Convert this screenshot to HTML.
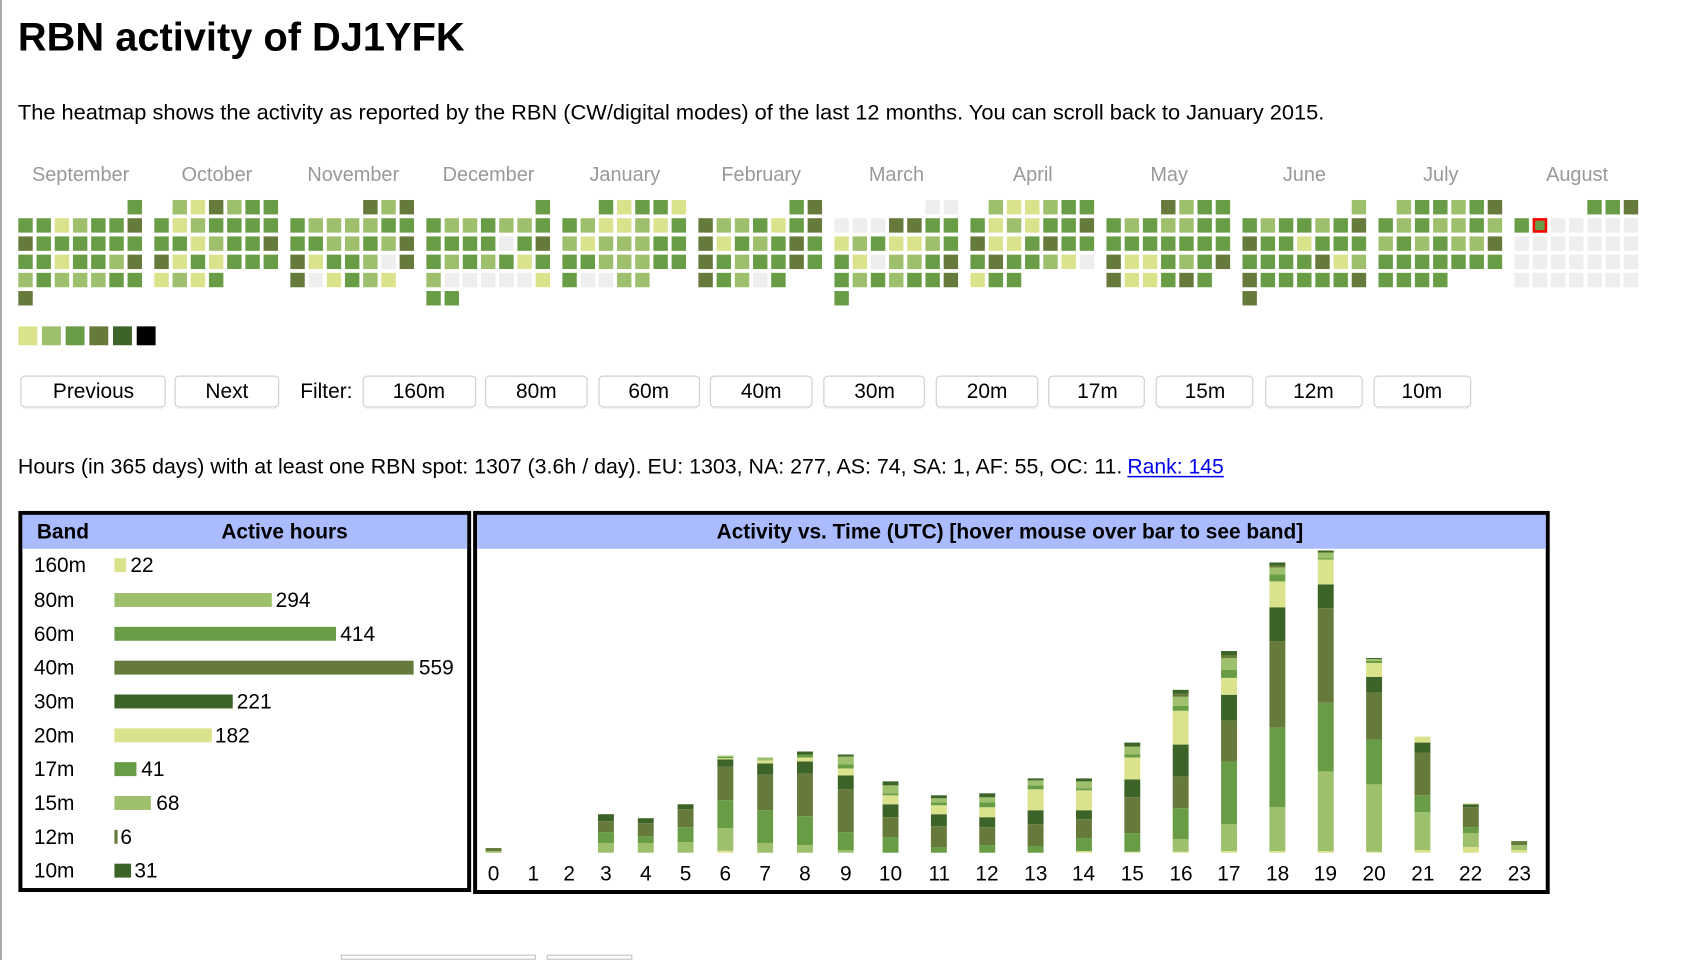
<!DOCTYPE html>
<html><head><meta charset="utf-8"><style>
html,body{margin:0;padding:0;background:#fff;}
body{width:1688px;height:960px;overflow:hidden;}
svg text{font-family:"Liberation Sans",sans-serif;}
</style></head><body>
<svg id="s" width="1688" height="960" xmlns="http://www.w3.org/2000/svg">
<rect x="0" y="0" width="2" height="960" fill="#aaa"/>
<g transform="scale(0.995)">
<text x="18" y="51" font-size="40" font-weight="bold" textLength="449" lengthAdjust="spacingAndGlyphs">RBN activity of DJ1YFK</text>
<text x="18" y="120" font-size="21" textLength="1313" lengthAdjust="spacingAndGlyphs">The heatmap shows the activity as reported by the RBN (CW/digital modes) of the last 12 months. You can scroll back to January 2015.</text>
<g font-size="20" fill="#999" text-anchor="middle">
<text x="81" y="182">September</text><text x="218" y="182">October</text><text x="355" y="182">November</text><text x="491" y="182">December</text>
<text x="628" y="182">January</text><text x="765" y="182">February</text><text x="901" y="182">March</text><text x="1038" y="182">April</text>
<text x="1175" y="182">May</text><text x="1311" y="182">June</text><text x="1448" y="182">July</text><text x="1585" y="182">August</text>
</g>
<g id="heat"></g>
<g id="btns"></g>
<text x="18" y="476" font-size="21" textLength="1110" lengthAdjust="spacingAndGlyphs">Hours (in 365 days) with at least one RBN spot: 1307 (3.6h / day). EU: 1303, NA: 277, AS: 74, SA: 1, AF: 55, OC: 11.</text>
<text x="1133" y="476" font-size="21" fill="#00e" textLength="97" lengthAdjust="spacingAndGlyphs">Rank: 145</text>
<line x1="1133" y1="479" x2="1230" y2="479" stroke="#00e" stroke-width="1.5"/>
<rect x="20.5" y="515.5" width="451" height="379" fill="#fff" stroke="#000" stroke-width="4"/>
<rect x="22.5" y="517.5" width="447" height="34" fill="#aabbff"/>
<text x="37" y="541" font-size="21" font-weight="bold">Band</text>
<text x="286" y="541" font-size="21" font-weight="bold" text-anchor="middle">Active hours</text>
<g font-size="21">
<text x="34" y="575">160m</text><text x="34" y="610">80m</text><text x="34" y="644">60m</text><text x="34" y="678">40m</text><text x="34" y="712">30m</text>
<text x="34" y="746">20m</text><text x="34" y="780">17m</text><text x="34" y="814">15m</text><text x="34" y="848">12m</text><text x="34" y="882">10m</text>
<text x="131" y="575">22</text><text x="277" y="610">294</text><text x="342" y="644">414</text><text x="421" y="678">559</text><text x="238" y="712">221</text>
<text x="216" y="746">182</text><text x="142" y="780">41</text><text x="157" y="814">68</text><text x="121" y="848">6</text><text x="135" y="882">31</text>
</g>
<g id="hb"></g>
<rect x="477.5" y="515.5" width="1078" height="381" fill="#fff" stroke="#000" stroke-width="4"/>
<rect x="479.5" y="517.5" width="1074" height="34" fill="#aabbff"/>
<text x="1015" y="541" font-size="21" font-weight="bold" text-anchor="middle">Activity vs. Time (UTC) [hover mouse over bar to see band]</text>
<g id="vb"></g>
<g font-size="21" text-anchor="middle">
<text x="496" y="885">0</text><text x="536" y="885">1</text><text x="572" y="885">2</text><text x="609" y="885">3</text><text x="649" y="885">4</text><text x="689" y="885">5</text>
<text x="729" y="885">6</text><text x="769" y="885">7</text><text x="809" y="885">8</text><text x="850" y="885">9</text><text x="895" y="885">10</text><text x="944" y="885">11</text>
<text x="992" y="885">12</text><text x="1041" y="885">13</text><text x="1089" y="885">14</text><text x="1138" y="885">15</text><text x="1187" y="885">16</text><text x="1235" y="885">17</text>
<text x="1284" y="885">18</text><text x="1332" y="885">19</text><text x="1381" y="885">20</text><text x="1430" y="885">21</text><text x="1478" y="885">22</text><text x="1527" y="885">23</text>
</g>
<rect x="343" y="960" width="195" height="4" fill="none" stroke="#bbb"/>
<rect x="550" y="960" width="85" height="4" fill="none" stroke="#bbb"/>
<g font-size="21" text-anchor="middle">
<text x="94" y="400">Previous</text><text x="228" y="400">Next</text>
<text x="328" y="400">Filter:</text>
<text x="421" y="400">160m</text><text x="539" y="400">80m</text><text x="652" y="400">60m</text><text x="765" y="400">40m</text><text x="879" y="400">30m</text>
<text x="992" y="400">20m</text><text x="1103" y="400">17m</text><text x="1211" y="400">15m</text><text x="1320" y="400">12m</text><text x="1429" y="400">10m</text>
</g>
</g>
</svg>
<script>
var NS="http://www.w3.org/2000/svg";
function R(g,x,y,w,h,f,extra){var r=document.createElementNS(NS,"rect");r.setAttribute("x",x);r.setAttribute("y",y);r.setAttribute("width",w);r.setAttribute("height",h);r.setAttribute("fill",f);if(extra)for(var k in extra)r.setAttribute(k,extra[k]);document.getElementById(g).appendChild(r);return r;}
var C=["#eeeeee","#dae28c","#9ebf6b","#689d46","#667a3c","#3c6428","#000"];
var M=[
["......3","3312334","4333333","3313324","2322233","4......"],
[".214233","3123333","3312334","4131333","1213..."],
["....424","3222233","3322324","4133204","401321."],
["......3","3223223","3333034","3232313","2000001","33....."],
["..31331","3211213","2122233","3322233","30022.."],
[".....34","4223134","4132343","4323343","43203.."],
[".....00","0004433","1231123","3102234","3232334","3......"],
[".211233","3121334","4113433","3433210","133...."],
["...4233","3232233","3333333","4113234","411343."],
["......2","3233234","4331333","3333412","4333334","4......"],
[".233234","3232232","2323224","3333333","3333..."],
["....334","3300000","0000000","0000000","0000000"]];
for(var m=0;m<12;m++){var x0=18.4+m*136.7;for(var r=0;r<M[m].length;r++){var row=M[m][r];for(var c=0;c<7;c++){var ch=row[c];if(ch==".")continue;R("heat",(x0+c*18.3).toFixed(1),(201+r*18.3).toFixed(1),14.5,14.5,C[+ch]);}}}
R("heat",18.4+11*136.7+18.3+1.2,201+18.3+1.2,12.1,12.1,"none",{stroke:"#f00","stroke-width":"2.5"});
for(var i=0;i<6;i++)R("heat",(18.4+i*23.8).toFixed(1),328,19,19,C[i+1]);
var B=[[21,145],[176,104],[365,113],[488,102],[602,101],[714,102],[828,101],[941,102],[1054,96],[1162,97],[1272,97],[1381,97]];
B.forEach(function(b){R("btns",b[0],378,b[1],31,"#fff",{rx:4,stroke:"#d0d0d0","stroke-width":1.2});R("btns",b[0]+2,409,b[1]-4,1.5,"#e4e4e4");});
var BC=[C[1],C[2],C[3],C[4],C[5],C[1],C[3],C[2],C[4],C[5]];
var V=[22,294,414,559,221,182,41,68,6,31];
for(var i=0;i<10;i++)R("hb",115,[568,603,637,671,705,739,773,807,841,875][i]-7,Math.max(2,V[i]*0.538).toFixed(1),14,BC[i]);
var S=[
[0,1.7,0,3,0,0,0,0,0,0],[0,0,0,0,0,0,0,0,0,0],[0,0,0,0,0,0,0,0,0,0],
[0,9.7,11,11,7,0,0,0,0,0],[0,9.7,7,13,5,0,0,0,0,0],[0,10.7,15,18,5,0,0,0,0,0],
[2,22.7,28,34,7,1.3,1.3,1.3,0,0],[0,9.7,33,36,11,3,0,3,0,0],[0,7.7,29,43,12,4,3,0,0,3],
[0,2.7,18,43,14,7,4,8,0,2],[0,0,15.7,20,13,9,2,8,0,4],[0,0,5.7,21,12,9,3,4,0,3],
[0,0,7.7,18,10,10,5,5,0,4],[0,0,6.7,22,14,21,4,5,0,2],[1.7,0,13,19,9,20,2,7,0,3],
[1,0,18.7,36,18,22,3,8,0,4],[1,12.7,31,32,32,34,5,9,3,4],[1.7,27,63,41,26,17,8,12,3,4],
[1.7,44,80,87,34,26,7,7,2,3],[1.7,80,69,95,24,25,1,6,0,2],[1,67.7,45,47,16,14,2,2,0,1],
[2.7,38,17,43,10,6,0,0,0,0],[5.7,14,6,20,3,1,0,0,0,0],[2.7,5,0,4,0,0,0,0,0,0]];
var X=[496,536,572,609,649,689,729,769,809,850];
for(var i=10;i<24;i++)X.push(895+(i-10)*48.6);
for(var h=0;h<24;h++){var y=857;for(var k=0;k<10;k++){var v=S[h][k];if(!v)continue;y-=v;R("vb",(X[h]-8).toFixed(1),y.toFixed(1),16,v,BC[k]);}}
</script>
</body></html>
